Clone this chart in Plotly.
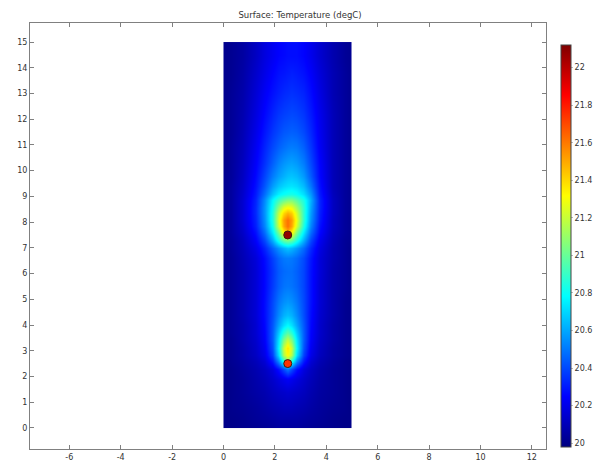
import plotly.graph_objects as go

# Grid node coordinates (cell centres) of the temperature field
x_nodes = [0.1, 0.3, 0.75, 1.25, 1.6, 1.9, 2.15, 2.35, 2.5, 2.65, 2.85, 3.1, 3.4, 3.75, 4.25, 4.7, 4.9]
y_nodes = [0.1, 0.3, 0.8, 1.4, 1.9, 2.3, 2.6, 2.85, 3.1, 3.4, 3.7, 4.0, 4.4, 4.9, 5.5, 6.1, 6.6,
           7.0, 7.3, 7.6, 7.85, 8.1, 8.35, 8.6, 8.85, 9.1, 9.4, 9.8, 10.3, 10.9, 11.5, 12.2,
           13.0, 13.8, 14.5, 14.7, 14.9]

# Temperature (degC), one row per y node (bottom to top)
temperature = [
    [20.00, 20.00, 20.01, 20.02, 20.03, 20.04, 20.05, 20.05, 20.05, 20.05, 20.05, 20.04, 20.03, 20.02, 20.01, 20.00, 20.00],
    [20.00, 20.00, 20.01, 20.03, 20.04, 20.05, 20.06, 20.06, 20.06, 20.06, 20.06, 20.05, 20.04, 20.03, 20.01, 20.00, 20.00],
    [20.00, 20.01, 20.02, 20.04, 20.06, 20.08, 20.09, 20.10, 20.10, 20.10, 20.09, 20.08, 20.06, 20.04, 20.02, 20.01, 20.00],
    [20.00, 20.01, 20.03, 20.06, 20.08, 20.11, 20.13, 20.14, 20.15, 20.14, 20.13, 20.11, 20.08, 20.05, 20.03, 20.01, 20.00],
    [20.00, 20.01, 20.03, 20.07, 20.10, 20.14, 20.18, 20.21, 20.23, 20.21, 20.18, 20.14, 20.10, 20.06, 20.03, 20.01, 20.00],
    [20.00, 20.01, 20.04, 20.08, 20.12, 20.18, 20.28, 20.40, 20.50, 20.40, 20.28, 20.18, 20.12, 20.07, 20.03, 20.01, 20.00],
    [20.00, 20.02, 20.05, 20.10, 20.16, 20.30, 20.55, 20.85, 21.05, 20.85, 20.55, 20.30, 20.16, 20.09, 20.04, 20.01, 20.00],
    [20.01, 20.02, 20.06, 20.12, 20.20, 20.38, 20.72, 21.15, 21.32, 21.15, 20.72, 20.38, 20.20, 20.11, 20.05, 20.02, 20.01],
    [20.01, 20.02, 20.06, 20.13, 20.22, 20.42, 20.78, 21.20, 21.38, 21.20, 20.78, 20.42, 20.22, 20.12, 20.05, 20.02, 20.01],
    [20.01, 20.02, 20.07, 20.14, 20.24, 20.44, 20.74, 21.05, 21.20, 21.05, 20.74, 20.44, 20.24, 20.13, 20.06, 20.02, 20.01],
    [20.01, 20.03, 20.07, 20.15, 20.25, 20.44, 20.68, 20.88, 20.98, 20.88, 20.68, 20.44, 20.25, 20.14, 20.06, 20.02, 20.01],
    [20.01, 20.03, 20.07, 20.15, 20.26, 20.43, 20.60, 20.72, 20.78, 20.72, 20.60, 20.43, 20.26, 20.14, 20.06, 20.02, 20.01],
    [20.01, 20.03, 20.08, 20.16, 20.27, 20.41, 20.54, 20.62, 20.65, 20.62, 20.54, 20.41, 20.27, 20.15, 20.07, 20.02, 20.01],
    [20.01, 20.03, 20.08, 20.16, 20.27, 20.40, 20.50, 20.55, 20.57, 20.55, 20.50, 20.40, 20.28, 20.16, 20.07, 20.02, 20.01],
    [20.01, 20.03, 20.08, 20.16, 20.26, 20.37, 20.45, 20.49, 20.50, 20.49, 20.46, 20.39, 20.28, 20.16, 20.07, 20.03, 20.01],
    [20.01, 20.03, 20.08, 20.16, 20.26, 20.36, 20.44, 20.47, 20.48, 20.48, 20.45, 20.39, 20.28, 20.17, 20.07, 20.03, 20.01],
    [20.01, 20.03, 20.09, 20.17, 20.27, 20.38, 20.46, 20.50, 20.51, 20.50, 20.47, 20.40, 20.29, 20.17, 20.08, 20.03, 20.01],
    [20.01, 20.04, 20.10, 20.20, 20.32, 20.46, 20.56, 20.62, 20.66, 20.63, 20.57, 20.47, 20.33, 20.19, 20.08, 20.03, 20.01],
    [20.02, 20.04, 20.11, 20.24, 20.40, 20.62, 20.85, 21.00, 21.05, 21.00, 20.85, 20.62, 20.40, 20.22, 20.09, 20.03, 20.02],
    [20.02, 20.05, 20.13, 20.28, 20.48, 20.75, 21.05, 21.35, 21.48, 21.35, 21.05, 20.75, 20.48, 20.26, 20.10, 20.04, 20.02],
    [20.02, 20.05, 20.14, 20.31, 20.53, 20.82, 21.22, 21.50, 21.62, 21.50, 21.22, 20.84, 20.53, 20.28, 20.11, 20.04, 20.02],
    [20.02, 20.05, 20.15, 20.32, 20.55, 20.85, 21.25, 21.52, 21.62, 21.52, 21.27, 20.88, 20.56, 20.30, 20.11, 20.04, 20.02],
    [20.02, 20.05, 20.15, 20.33, 20.56, 20.85, 21.20, 21.40, 21.48, 21.42, 21.22, 20.88, 20.58, 20.31, 20.12, 20.04, 20.02],
    [20.02, 20.05, 20.15, 20.33, 20.56, 20.82, 21.08, 21.25, 21.30, 21.27, 21.12, 20.88, 20.60, 20.32, 20.12, 20.04, 20.02],
    [20.02, 20.05, 20.15, 20.32, 20.54, 20.78, 20.92, 21.00, 21.05, 21.05, 20.97, 20.84, 20.62, 20.32, 20.12, 20.04, 20.02],
    [20.02, 20.05, 20.14, 20.30, 20.48, 20.66, 20.76, 20.80, 20.82, 20.83, 20.80, 20.72, 20.57, 20.30, 20.11, 20.04, 20.02],
    [20.02, 20.05, 20.13, 20.28, 20.43, 20.58, 20.66, 20.70, 20.72, 20.73, 20.71, 20.64, 20.50, 20.28, 20.10, 20.04, 20.02],
    [20.02, 20.04, 20.12, 20.26, 20.39, 20.51, 20.58, 20.62, 20.65, 20.66, 20.64, 20.57, 20.44, 20.26, 20.10, 20.04, 20.02],
    [20.01, 20.04, 20.11, 20.24, 20.35, 20.45, 20.52, 20.56, 20.58, 20.59, 20.57, 20.51, 20.40, 20.25, 20.10, 20.04, 20.02],
    [20.01, 20.04, 20.10, 20.22, 20.32, 20.40, 20.45, 20.48, 20.50, 20.51, 20.50, 20.45, 20.36, 20.23, 20.10, 20.04, 20.02],
    [20.01, 20.03, 20.09, 20.20, 20.29, 20.36, 20.40, 20.43, 20.44, 20.45, 20.44, 20.40, 20.33, 20.22, 20.10, 20.04, 20.02],
    [20.01, 20.03, 20.08, 20.18, 20.26, 20.32, 20.36, 20.38, 20.39, 20.40, 20.39, 20.36, 20.30, 20.21, 20.10, 20.04, 20.02],
    [20.01, 20.03, 20.07, 20.16, 20.23, 20.28, 20.31, 20.33, 20.34, 20.35, 20.34, 20.32, 20.27, 20.19, 20.09, 20.04, 20.02],
    [20.01, 20.02, 20.06, 20.14, 20.20, 20.25, 20.28, 20.29, 20.30, 20.31, 20.30, 20.28, 20.24, 20.17, 20.09, 20.04, 20.02],
    [20.01, 20.02, 20.05, 20.12, 20.18, 20.22, 20.25, 20.26, 20.27, 20.27, 20.27, 20.25, 20.21, 20.15, 20.08, 20.03, 20.02],
    [20.01, 20.02, 20.05, 20.12, 20.18, 20.22, 20.25, 20.26, 20.27, 20.27, 20.27, 20.25, 20.21, 20.15, 20.08, 20.03, 20.02],
    [20.01, 20.02, 20.05, 20.12, 20.18, 20.22, 20.25, 20.26, 20.27, 20.27, 20.27, 20.25, 20.21, 20.15, 20.08, 20.03, 20.02],
]

# Heat sources
sources_x = [2.5, 2.5]
sources_y = [2.5, 7.5]
sources_T = [21.75, 22.08]

t_min, t_max = 19.98, 22.12

x_tick_vals = [-6, -4, -2, 0, 2, 4, 6, 8, 10, 12]
x_tick_text = ["-6", "-4", "-2", "0", "2", "4", "6", "8", "10", "12"]
y_tick_vals = list(range(0, 16))
y_tick_text = [str(v) for v in y_tick_vals]
cbar_tick_vals = [20, 20.2, 20.4, 20.6, 20.8, 21, 21.2, 21.4, 21.6, 21.8, 22]
cbar_tick_text = ["20", "20.2", "20.4", "20.6", "20.8", "21", "21.2", "21.4", "21.6", "21.8", "22"]

jet = [
    [0.0, "rgb(0,0,128)"],
    [0.125, "rgb(0,0,255)"],
    [0.375, "rgb(0,255,255)"],
    [0.625, "rgb(255,255,0)"],
    [0.875, "rgb(255,0,0)"],
    [1.0, "rgb(128,0,0)"],
]

font_fam = "DejaVu Sans, sans-serif"
txt_col = "#333333"
frame_col = "#808080"

fig = go.Figure()
fig.add_trace(go.Heatmap(
    x=x_nodes, y=y_nodes, z=temperature,
    colorscale=jet, zmin=t_min, zmax=t_max, zsmooth="best",
    hoverinfo="skip",
    colorbar=dict(
        thickness=10, thicknessmode="pixels",
        len=402, lenmode="pixels",
        x=(561 - 30) / 516, xanchor="left", xpad=0,
        y=0.4765, yanchor="middle", ypad=0,
        outlinewidth=1, outlinecolor="#444444",
        tickmode="array", tickvals=cbar_tick_vals, ticktext=cbar_tick_text,
        ticks="outside", ticklen=2, tickcolor="#bbbbbb",
        tickfont=dict(family=font_fam, size=8, color=txt_col),
    ),
))
fig.add_trace(go.Scatter(
    x=sources_x, y=sources_y, mode="markers",
    marker=dict(size=8, color=sources_T, colorscale=jet, cmin=t_min, cmax=t_max,
                line=dict(color="#3a1a10", width=1)),
    hoverinfo="skip", showlegend=False,
))

axis_common = dict(
    showgrid=False, zeroline=False, showline=True, linecolor=frame_col, linewidth=1,
    mirror="ticks", ticks="inside", ticklen=4, tickcolor=frame_col,
    tickfont=dict(family=font_fam, size=8, color=txt_col),
    tickmode="array",
)
fig.update_layout(
    width=608, height=463,
    margin=dict(l=30, r=62, t=23, b=14, autoexpand=False),
    paper_bgcolor="white", plot_bgcolor="white",
    showlegend=False,
    title=dict(text="Surface: Temperature (degC)", x=300 / 608, xanchor="center",
               y=1 - 15 / 463, yanchor="middle",
               font=dict(family=font_fam, size=8.5, color=txt_col)),
    xaxis=dict(range=[-7.53, 12.55], tickvals=x_tick_vals, ticktext=x_tick_text, **axis_common),
    yaxis=dict(range=[-0.82, 15.74], tickvals=y_tick_vals, ticktext=y_tick_text, **axis_common),
)

fig.write_html("out.html", config={"displayModeBar": False},
               post_script="document.body.style.margin='0';document.body.style.padding='0';")
